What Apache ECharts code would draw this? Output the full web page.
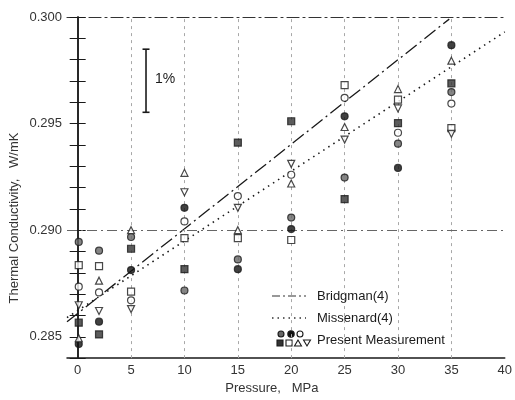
<!DOCTYPE html>
<html><head><meta charset="utf-8">
<script src="https://cdn.jsdelivr.net/npm/echarts@6/dist/echarts.min.js"></script>
<style>html,body{margin:0;padding:0;background:#fff}#c{width:515px;height:400px}</style>
</head><body><div id="c"></div>
<script>
// Pressure columns (MPa)
const pressures = [0.1, 2, 5, 10, 15, 20, 25, 30, 35];
// Present measurement, one array per symbol (W/mK)
const seriesHalfCircle = [0.28945, 0.28904, 0.28968, 0.28717, 0.28863, 0.29059, 0.29247, 0.29406, 0.29648];
const seriesFilledCircle = [0.28466, 0.28571, 0.28813, 0.29105, 0.28817, 0.29005, 0.29534, 0.29292, 0.29868];
const seriesOpenCircle = [0.28735, 0.28708, 0.28671, 0.29041, 0.29160, 0.29260, 0.29621, 0.29457, 0.29594];
const seriesFilledSquare = [0.28566, 0.28511, 0.28913, 0.28817, 0.29411, 0.29511, 0.29146, 0.29502, 0.29689];
const seriesOpenSquare = [0.28836, 0.28831, 0.28712, 0.28963, 0.28963, 0.28954, 0.29680, 0.29612, 0.29479];
const seriesUpTriangle = [0.28493, 0.28763, 0.29000, 0.29269, 0.29000, 0.29219, 0.29484, 0.29662, 0.29795];
const seriesDownTriangle = [0.28648, 0.28621, 0.28630, 0.29178, 0.29105, 0.29311, 0.29425, 0.29571, 0.29452];
// Correlations
const bridgmanX = [-1, 34.8];
const bridgmanY = [0.2857, 0.2999];
const missenardX = [-1, 40];
const missenardY = [0.2859, 0.2993];
// 1% bar
const barX = [6.4, 6.4];
const barY = [0.29553, 0.29849];
// Ticks and grid
const xTickLabels = [0, 5, 10, 15, 20, 25, 30, 35, 40];
const yTickLabels = [0.285, 0.290, 0.295, 0.300];
const gridX = [5, 10, 15, 20, 25, 30, 35];
const gridY = [0.290, 0.295];

const FONT = 'Liberation Sans';
const INK = '#1a1a1a';
const zip = (xs, ys) => xs.map((x, i) => [x, ys[i]]);

function scatter(name, values, symbol, fill, rotate) {
  return {
    type: 'scatter', name, data: zip(pressures, values), symbol, symbolSize: symbol === 'rect' ? 7 : 7,
    symbolRotate: rotate || 0,
    itemStyle: { color: fill, borderColor: INK, borderWidth: 1.2 },
    z: 5, silent: true
  };
}

const chart = echarts.init(document.getElementById('c'), null, { renderer: 'canvas' });
const markItems = [];
gridX.forEach(v => markItems.push({ xAxis: v, lineStyle: { color: '#a8a8a8', type: [3, 4], width: 1 } }));
gridY.forEach(v => markItems.push({ yAxis: v, lineStyle: { color: '#666', type: [10, 4, 2, 4], width: 1 } }));

chart.setOption({
  animation: false,
  backgroundColor: '#fff',
  textStyle: { fontFamily: FONT },
  grid: { left: 67, right: 4, top: 17, bottom: 34 },
  xAxis: [{
    type: 'value', min: -1, max: 40, interval: 1,
    axisLine: { show: true, lineStyle: { color: INK, width: 1.5 } },
    axisTick: { show: false },
    splitLine: { show: false },
    axisLabel: {
      color: '#333', fontSize: 13, margin: 6,
      formatter: v => {
        const r = Math.round(v);
        return (Math.abs(v - r) < 1e-9 && xTickLabels.indexOf(r) >= 0) ? String(r) : '';
      }
    },
    name: 'Pressure,   MPa', nameLocation: 'middle', nameGap: 21,
    nameTextStyle: { color: '#333', fontSize: 13, padding: [0, 28, 0, 0] }
  }, {
    type: 'value', position: 'top', min: -1, max: 40,
    axisLine: { show: true, lineStyle: { color: '#333', width: 1.2, type: [12, 4, 2, 4] } },
    axisTick: { show: false }, axisLabel: { show: false }, splitLine: { show: false }
  }],
  yAxis: [{
    type: 'value', min: 0.284, max: 0.300, interval: 0.001,
    axisLine: { show: true, lineStyle: { color: INK, width: 1.5 } },
    axisTick: { show: true, inside: true, length: 8, lineStyle: { color: INK } },
    splitLine: { show: false },
    axisLabel: {
      color: '#333', fontSize: 13, margin: 5,
      formatter: v => yTickLabels.some(t => Math.abs(t - v) < 1e-7) ? v.toFixed(3) : ''
    }
  }, {
    type: 'value', position: 'right', min: 0.284, max: 0.300, interval: 0.001,
    axisLine: { show: true, lineStyle: { color: INK, width: 1.5 } },
    axisTick: { show: true, inside: true, length: 8, lineStyle: { color: INK } },
    axisLabel: { show: false }, splitLine: { show: false }
  }],
  series: [
    {
      type: 'line', name: 'grid', data: [], silent: true, z: 1,
      markLine: { silent: true, symbol: ['none', 'none'], label: { show: false }, animation: false, data: markItems }
    },
    {
      type: 'line', name: 'Bridgman(4)', data: zip(bridgmanX, bridgmanY), showSymbol: false, symbol: 'none',
      lineStyle: { color: INK, width: 1.3, type: [14, 4, 2, 4] }, z: 3, silent: true
    },
    {
      type: 'line', name: 'Missenard(4)', data: zip(missenardX, missenardY), showSymbol: false, symbol: 'none',
      lineStyle: { color: INK, width: 1.6, type: [1.5, 4.5] }, z: 3, silent: true
    },
    {
      type: 'line', name: '1%', data: zip(barX, barY), symbol: 'rect', symbolSize: [7, 1.6], showSymbol: true,
      itemStyle: { color: INK }, lineStyle: { color: INK, width: 1.6 }, z: 4, silent: true
    },
    scatter('a', seriesHalfCircle, 'circle', '#666'),
    scatter('b', seriesFilledCircle, 'circle', '#111'),
    scatter('c', seriesOpenCircle, 'circle', '#fff'),
    scatter('d', seriesFilledSquare, 'rect', '#333'),
    scatter('e', seriesOpenSquare, 'rect', '#fff'),
    scatter('f', seriesUpTriangle, 'triangle', '#fff'),
    scatter('g', seriesDownTriangle, 'triangle', '#fff', 180)
  ],
  graphic: [
    { type: 'text', rotation: Math.PI / 2, position: [14, 218],
      style: { text: 'Thermal Conductivity,   W/mK', font: '13px "' + FONT + '"', fill: '#333', textAlign: 'center', textVerticalAlign: 'middle' } },
    { type: 'text', position: [155, 79], style: { text: '1%', font: '14px "' + FONT + '"', fill: INK, textVerticalAlign: 'middle' } },
    // legend
    { type: 'line', shape: { x1: 272, y1: 296, x2: 306, y2: 296 }, style: { stroke: '#333', lineWidth: 1.2, lineDash: [8, 3, 2, 3] } },
    { type: 'text', position: [317, 296], style: { text: 'Bridgman(4)', font: '13px "' + FONT + '"', fill: INK, textVerticalAlign: 'middle' } },
    { type: 'line', shape: { x1: 272, y1: 318, x2: 306, y2: 318 }, style: { stroke: '#333', lineWidth: 1.4, lineDash: [1.5, 4] } },
    { type: 'text', position: [317, 318], style: { text: 'Missenard(4)', font: '13px "' + FONT + '"', fill: INK, textVerticalAlign: 'middle' } },
    { type: 'circle', shape: { cx: 281, cy: 334, r: 3 }, style: { fill: '#666', stroke: INK, lineWidth: 1.1 } },
    { type: 'circle', shape: { cx: 291, cy: 334, r: 3.2 }, style: { fill: '#111', stroke: INK, lineWidth: 1.1 } },
    { type: 'circle', shape: { cx: 300, cy: 334, r: 3 }, style: { fill: '#fff', stroke: INK, lineWidth: 1.1 } },
    { type: 'rect', shape: { x: 277, y: 340, width: 6, height: 6 }, style: { fill: '#333', stroke: INK, lineWidth: 1.1 } },
    { type: 'rect', shape: { x: 286, y: 340, width: 6, height: 6 }, style: { fill: '#fff', stroke: INK, lineWidth: 1.1 } },
    { type: 'polygon', shape: { points: [[298, 340], [294.5, 346], [301.5, 346]] }, style: { fill: '#fff', stroke: INK, lineWidth: 1.1 } },
    { type: 'polygon', shape: { points: [[303.5, 340], [310.5, 340], [307, 346]] }, style: { fill: '#fff', stroke: INK, lineWidth: 1.1 } },
    { type: 'text', position: [317, 340], style: { text: 'Present Measurement', font: '13px "' + FONT + '"', fill: INK, textVerticalAlign: 'middle' } }
  ]
});
</script>
</body></html>
